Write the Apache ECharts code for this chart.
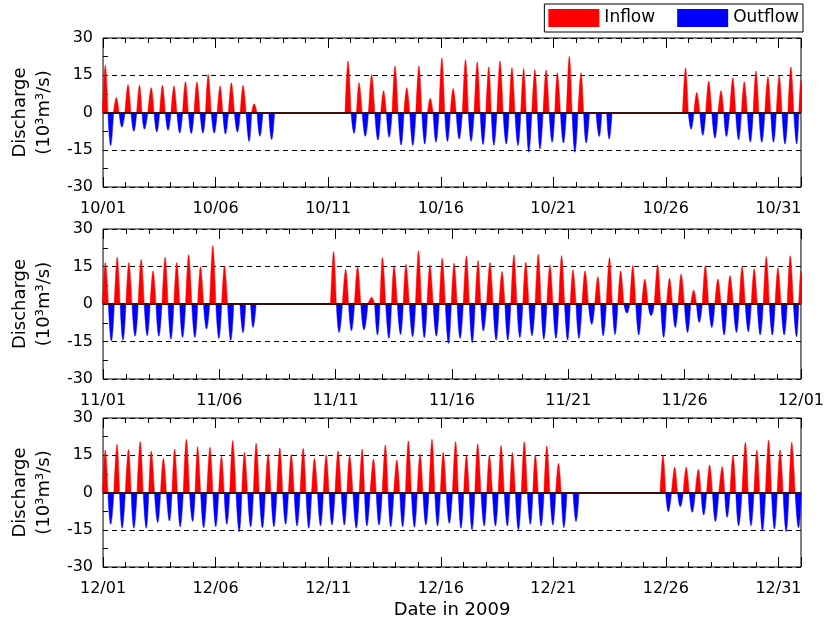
<!DOCTYPE html>
<html>
<head>
<meta charset="utf-8">
<title>Discharge 2009</title>
<script src="https://cdn.jsdelivr.net/npm/echarts@6/dist/echarts.min.js"></script>
<style>
  html, body { margin: 0; padding: 0; background: #fff; }
  #chart { width: 827px; height: 626px; }
</style>
</head>
<body>
<div id="chart"></div>
<script>
// tidal extremes: time in days from the 1st of the month, discharge in 10^3 m3/s
// null = no data (gap in the record)
const octT = [0.10, 0.34, 0.59, 0.84, 1.11, 1.37, 1.62, 1.84, 2.14, 2.39, 2.64, 2.89, 3.15, 3.41, 3.66, 3.92,
  4.17, 4.44, 4.67, 4.94, 5.20, 5.44, 5.70, 5.97, 6.22, 6.49, 6.71, 6.97, 7.23, 7.49, null,
  10.88, 11.15, 11.37, 11.65, 11.93, 12.21, 12.46, 12.71, 12.97, 13.24, 13.49, 13.76, 14.03, 14.29, 14.53, 14.79,
  15.05, 15.30, 15.55, 15.82, 16.10, 16.35, 16.62, 16.88, 17.13, 17.36, 17.63, 17.91, 18.16, 18.43, 18.68, 18.91,
  19.18, 19.41, 19.68, 19.95, 20.18, 20.45, 20.71, 20.96, 21.23, 21.46, 21.75, 22.04, 22.26, 22.48, null,
  25.87, 26.12, 26.37, 26.64, 26.90, 27.18, 27.45, 27.69, 27.97, 28.23, 28.48, 28.75, 29.00, 29.26, 29.53, 29.78,
  30.03, 30.29, 30.55, 30.81, 31.00]
const octQ = [19, -13.3, 6, -5.9, 11.3, -7.6, 11, -6.7, 10, -7.9, 11, -7.2, 10.7, -8.3, 12.4, -8.5,
  12.3, -8.3, 15.3, -8.3, 10.7, -8.7, 12, -7.9, 11, -11.7, 3.5, -9.6, 0, -10.9, null,
  20.7, -8.4, 12, -9.6, 15.3, -11.1, 8.8, -10, 18.7, -13.1, 10, -13.3, 18.7, -12.7, 5.7, -12,
  22, -11.7, 9.7, -10.7, 21.3, -11.6, 20.4, -12.9, 18.4, -13.2, 20.7, -12.7, 18.1, -13.3, 17.7, -16,
  17.3, -14.7, 17.1, -12, 16, -12.3, 22.7, -16, 16, -12.3, 0, -9.7, 0, -10.7, null,
  18, -6.7, 8.1, -9.2, 12.7, -10.3, 8.8, -9.7, 14, -11, 12.4, -11.9, 16.7, -12, 14.4, -12,
  14.8, -12.7, 18.4, -12.7, 13]

const novT = [0.10, 0.36, 0.61, 0.86, 1.11, 1.38, 1.64, 1.90, 2.15, 2.40, 2.67, 2.92, 3.17, 3.42, 3.68, 3.95,
  4.19, 4.45, 4.72, 4.98, 5.22, 5.49, 5.75, 6.02, 6.24, 6.45, null,
  9.91, 10.15, 10.43, 10.68, 10.94, 11.22, 11.55, 11.80, 12.01, 12.29, 12.51, 12.79, 13.02, 13.31, 13.56, 13.81,
  14.05, 14.33, 14.58, 14.85, 15.09, 15.35, 15.62, 15.87, 16.12, 16.35, 16.63, 16.90, 17.15, 17.40, 17.66, 17.92,
  18.17, 18.44, 18.71, 18.95, 19.21, 19.47, 19.71, 19.97, 20.20, 20.46, 20.72, 21.01, 21.27, 21.50, 21.77, 22.01,
  22.25, 22.52, 22.77, 23.03, 23.29, 23.56, 23.84, 24.10, 24.35, 24.60, 24.85, 25.13, 25.39, 25.63, 25.89, 26.17,
  26.43, 26.70, 26.95, 27.23, 27.47, 27.74, 27.99, 28.25, 28.51, 28.77, 29.01, 29.28, 29.54, 29.81, 30.00]
const novQ = [16.6, -14.9, 18.7, -14.5, 16.6, -12.9, 17.9, -12.7, 13.3, -12.9, 18.7, -14.1, 16.6, -13.4, 19.7, -13.4,
  15, -10, 23.4, -13.8, 15.3, -14.6, 0, -11.5, 0, -9.4, null,
  21, -11.4, 13.9, -10.7, 15, -10.4, 2.7, -12.4, 18.6, -13.8, 15.3, -12.2, 15.9, -13.1, 21.3, -13.5,
  15.7, -12.9, 18.3, -15.8, 16.3, -13.8, 19.3, -15.5, 17.4, -10.8, 16.6, -14.5, 13, -14.5, 19.7, -13.5,
  16.7, -12.7, 19.9, -14.1, 15.7, -13.8, 19.4, -14.5, 13.7, -13.8, 13.3, -8.2, 11, -12.7, 18.6, -12.2,
  13.3, -3.7, 15.4, -12.4, 10, -4.7, 15.7, -13.4, 10.3, -9.4, 12, -11.4, 5.6, -7.4, 15.4, -9.4,
  10, -12.4, 11.4, -11.4, 15, -11.1, 14.1, -12.4, 19, -12.4, 14.5, -12.4, 19.3, -13.1, 13]

const decT = [0.10, 0.34, 0.62, 0.85, 1.13, 1.37, 1.65, 1.92, 2.14, 2.43, 2.68, 2.95, 3.18, 3.43, 3.70, 3.98,
  4.20, 4.47, 4.75, 5.01, 5.26, 5.50, 5.76, 6.05, 6.28, 6.56, 6.80, 7.08, 7.33, 7.59, 7.85, 8.11,
  8.36, 8.62, 8.89, 9.14, 9.39, 9.66, 9.91, 10.17, 10.44, 10.72, 10.95, 11.25, 11.51, 11.72, 12.01, 12.26,
  12.54, 12.78, 13.05, 13.31, 13.56, 13.83, 14.08, 14.34, 14.61, 14.86, 15.11, 15.38, 15.66, 15.90, 16.14, 16.39,
  16.64, 16.93, 17.16, 17.43, 17.68, 17.96, 18.18, 18.45, 18.71, 18.98, 19.20, 19.46, 19.71, 19.98, 20.23, 20.47,
  20.74, 21.01, null,
  24.87, 25.11, 25.39, 25.64, 25.90, 26.17, 26.44, 26.68, 26.94, 27.20, 27.50, 27.72, 27.98, 28.23, 28.53, 28.78,
  29.04, 29.29, 29.56, 29.82, 30.07, 30.34, 30.59, 30.89]
const decQ = [17.1, -12.8, 19.4, -14.4, 17.4, -14.4, 20.5, -14.4, 16.7, -12.1, 13.8, -11.5, 17.5, -13.8, 21.4, -11.7,
  18.5, -14.2, 18.2, -13.8, 14.7, -12.8, 20.9, -15.8, 16.2, -13.8, 19.8, -14.2, 15.5, -13.8, 18, -12.8,
  15.4, -13.5, 17.8, -14.4, 13.8, -13.4, 15.1, -13.1, 16.7, -13.1, 14.9, -14.4, 17.5, -13.5, 13.5, -13.1,
  19.1, -13.8, 13.1, -13.8, 20.8, -14, 15.5, -13.1, 21.4, -13.5, 16.2, -12.4, 20.5, -14.4, 15.1, -15.1,
  19.6, -13.5, 15.1, -13.5, 18.9, -13.5, 16.1, -15.1, 20.5, -12.8, 15.1, -13.5, 18.8, -13.1, 11.8, -14.2,
  0, -11.7, null,
  15.1, -7.7, 10.2, -5.7, 10.2, -8, 9.4, -9.1, 11.1, -11.7, 10.4, -10, 15.1, -13.4, 20.2, -13.4,
  17.1, -15.5, 21.1, -14.7, 17.1, -15.8, 20.2, -14.2]

// tick labels every 5 days
const octLabels = ['10/01', '10/06', '10/11', '10/16', '10/21', '10/26', '10/31']
const novLabels = ['11/01', '11/06', '11/11', '11/16', '11/21', '11/26', '12/01']
const decLabels = ['12/01', '12/06', '12/11', '12/16', '12/21', '12/26', '12/31']
const monthDays = [31, 30, 31]

const FONT = 'DejaVu Sans'
const HALF = 0.13 // half width of a lobe at the ends of a record (days)

// one lobe per extreme: zero -> extreme -> zero, zero crossings half way between neighbours.
// every lobe is its own line segment (null break) so the smoothing stays inside the lobe
function lobes(ts, qs, positive) {
  const pts = []
  for (let i = 0; i < ts.length; i++) {
    const q = qs[i]
    if (q === null) continue
    const hasPrev = i > 0 && qs[i - 1] !== null
    const hasNext = i < ts.length - 1 && qs[i + 1] !== null
    const a = hasPrev ? (ts[i - 1] + ts[i]) / 2 : ts[i] - HALF
    const b = hasNext ? (ts[i] + ts[i + 1]) / 2 : ts[i] + HALF
    if (positive ? q > 0 : q < 0) pts.push([a, 0], [ts[i], q], [b, 0], [b, null])
  }
  return pts
}

const panels = [
  { t: octT, q: octQ, labels: octLabels, top: 38, height: 149 },
  { t: novT, q: novQ, labels: novLabels, top: 229, height: 150 },
  { t: decT, q: decQ, labels: decLabels, top: 418, height: 149 }
]

const grids = []
const xAxes = []
const yAxes = []
const series = []
const tickLine = { color: '#000', width: 1 }

panels.forEach((p, k) => {
  grids.push({
    left: 100, right: 26, top: p.top, height: p.height,
    show: true, borderColor: '#000', borderWidth: 1, backgroundColor: 'transparent'
  })
  const base = { type: 'value', gridIndex: k, min: 0, max: monthDays[k], splitLine: { show: false } }
  // day ticks (short) and 5-day ticks (long), bottom and top
  xAxes.push(
    Object.assign({}, base, {
      position: 'bottom', interval: 1, axisLine: { show: false, onZero: false },
      axisTick: { inside: true, length: 5, lineStyle: tickLine }, axisLabel: { show: false }
    }),
    Object.assign({}, base, {
      position: 'bottom', interval: 5, axisLine: { show: false, onZero: false },
      axisTick: { inside: true, length: 10, lineStyle: tickLine },
      axisLabel: {
        color: '#000', fontSize: 16, fontFamily: FONT, margin: 14,
        formatter: v => (v % 5 === 0 ? p.labels[v / 5] : '')
      },
      name: k === 2 ? 'Date in 2009' : '', nameLocation: 'middle', nameGap: 34,
      nameTextStyle: { color: '#000', fontSize: 18, fontFamily: FONT }
    }),
    Object.assign({}, base, {
      position: 'top', interval: 1, axisLine: { show: false, onZero: false },
      axisTick: { inside: true, length: 5, lineStyle: tickLine }, axisLabel: { show: false }
    }),
    Object.assign({}, base, {
      position: 'top', interval: 5, axisLine: { show: false, onZero: false },
      axisTick: { inside: true, length: 10, lineStyle: tickLine }, axisLabel: { show: false }
    })
  )
  yAxes.push({
    type: 'value', gridIndex: k, min: -30, max: 30, interval: 15,
    axisLine: { show: false, onZero: false },
    axisTick: { inside: true, length: 5, lineStyle: tickLine },
    minorTick: { show: true, splitNumber: 2, length: 5, lineStyle: tickLine },
    splitLine: { show: true, lineStyle: { color: '#000', width: 1, type: [5, 4] } },
    axisLabel: { color: '#000', fontSize: 16, fontFamily: FONT, margin: 10 },
    name: 'Discharge\n(10³m³/s)', nameLocation: 'middle', nameGap: 45, nameRotate: 90,
    nameTextStyle: { color: '#000', fontSize: 18, fontFamily: FONT, lineHeight: 24 }
  })
  series.push({
    name: 'Inflow', type: 'line', xAxisIndex: 4 * k, yAxisIndex: k,
    data: lobes(p.t, p.q, true), symbol: 'none', smooth: 0.4, connectNulls: false, silent: true,
    itemStyle: { color: '#ff0000' },
    lineStyle: { color: '#ff0000', width: 0.5 },
    areaStyle: { color: '#ff0000', opacity: 1 }
  }, {
    name: 'Outflow', type: 'line', xAxisIndex: 4 * k, yAxisIndex: k,
    data: lobes(p.t, p.q, false), symbol: 'none', smooth: 0.5, connectNulls: false, silent: true,
    itemStyle: { color: '#0000ff' },
    lineStyle: { color: '#0000ff', width: 0.5 },
    areaStyle: { color: '#0000ff', opacity: 1 },
    // zero line drawn over the lobes
    markLine: {
      silent: true, symbol: 'none', animation: false, label: { show: false },
      lineStyle: { color: '#3a0c0c', width: 2, type: 'solid' },
      data: [{ yAxis: 0 }]
    }
  })
})

const chart = echarts.init(document.getElementById('chart'))
chart.setOption({
  animation: false,
  backgroundColor: '#fff',
  legend: {
    data: ['Inflow', 'Outflow'], right: 24, top: 4, icon: 'rect',
    itemWidth: 51, itemHeight: 18, itemGap: 22, padding: [5, 4],
    borderColor: '#000', borderWidth: 1,
    textStyle: { color: '#000', fontSize: 17, fontFamily: FONT }
  },
  grid: grids,
  xAxis: xAxes,
  yAxis: yAxes,
  series: series
})
</script>
</body>
</html>
